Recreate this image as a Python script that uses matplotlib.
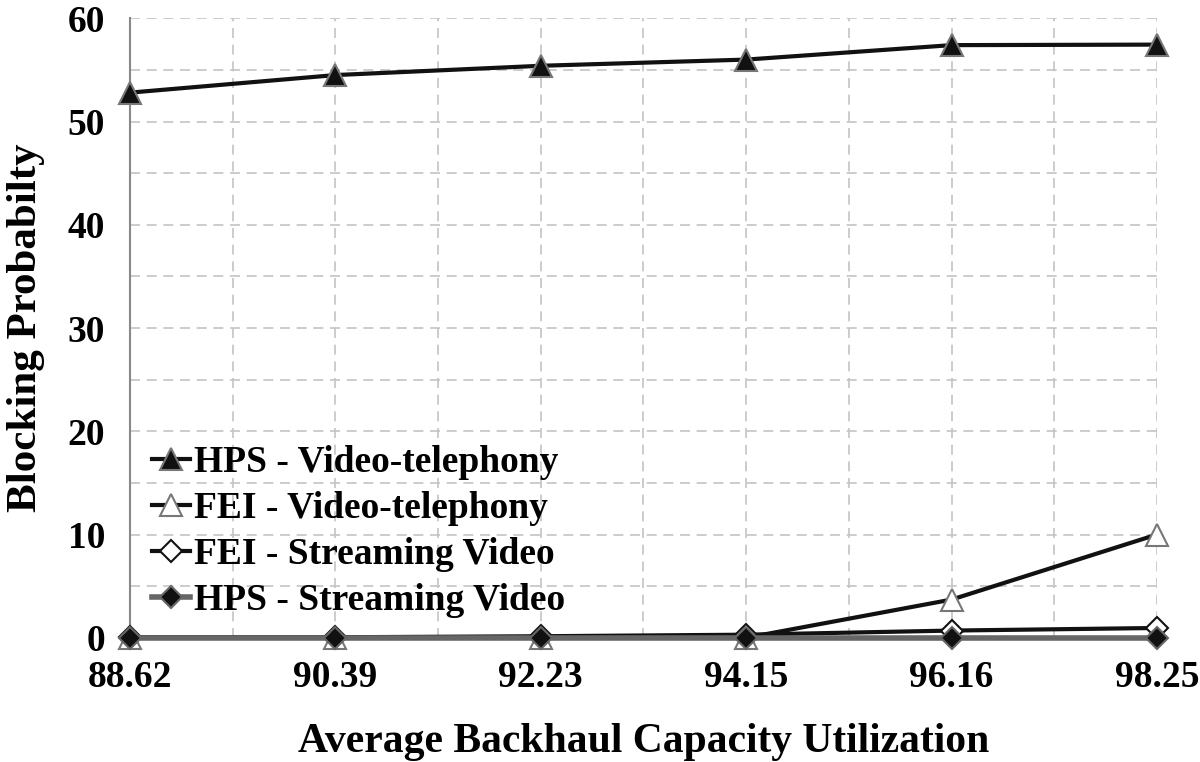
"""Blocking probability vs. average backhaul capacity utilization."""

import numpy as np
import matplotlib.pyplot as plt

plt.rcParams['font.family'] = ['Liberation Serif', 'DejaVu Serif']
plt.rcParams['font.weight'] = 'bold'

utilization = ['88.62', '90.39', '92.23', '94.15', '96.16', '98.25']
hps_video_tel = [52.8, 54.5, 55.4, 56.0, 57.4, 57.45]
fei_video_tel = [0.0, 0.0, 0.0, 0.0, 3.7, 10.0]
fei_streaming = [0.05, 0.05, 0.15, 0.3, 0.7, 0.95]
hps_streaming = [0.0, 0.0, 0.0, 0.0, 0.0, 0.0]


def main() -> None:
    x = np.arange(len(utilization))

    fig = plt.figure(figsize=(12.0, 7.62), dpi=100)
    ax = fig.add_axes([0.1083, 0.163, 0.8558, 0.813])

    common = dict(clip_on=False, mew=1.5)
    ax.plot(x, hps_video_tel, color='#111111', lw=3, marker='^', ms=16,
            mfc='#111111', mec='#777777', label='HPS - Video-telephony', zorder=3, **common)
    ax.plot(x, fei_video_tel, color='#111111', lw=3, marker='^', ms=16,
            mfc='white', mec='#777777', label='FEI - Video-telephony', zorder=3, **common)
    ax.plot(x, fei_streaming, color='#111111', lw=3, marker='D', ms=11,
            mfc='white', mec='#111111', label='FEI - Streaming Video', zorder=4, **common)
    ax.plot(x, hps_streaming, color='#666666', lw=4, marker='D', ms=11,
            mfc='#111111', mec='#666666', label='HPS - Streaming Video', zorder=5, **common)

    ax.set_xlim(0, len(utilization) - 1)
    ax.set_ylim(0, 60)
    ax.set_xticks(x)
    ax.set_xticklabels(utilization)
    ax.set_yticks(np.arange(0, 61, 10))
    ax.set_xticks(np.arange(0.5, len(utilization) - 1, 1), minor=True)
    ax.set_yticks(np.arange(5, 60, 10), minor=True)
    ax.tick_params(axis='both', which='both', length=0, labelsize=27)
    ax.tick_params(axis='y', pad=18)
    ax.tick_params(axis='x', pad=16)

    ax.grid(True, which='both', color='#c4c4c4', linestyle=(0, (6, 4)), lw=1.2)
    ax.set_axisbelow(True)
    for side in ('top', 'right', 'bottom'):
        ax.spines[side].set_visible(False)
    ax.spines['left'].set_color('#888888')
    ax.spines['left'].set_linewidth(1.5)

    ax.set_xlabel('Average Backhaul Capacity Utilization', fontsize=30,
                  fontweight='bold', labelpad=20)
    ax.set_ylabel('Blocking Probabilty', fontsize=31, fontweight='bold', labelpad=16)

    ax.legend(loc='lower left', bbox_to_anchor=(0.0, -0.005), frameon=False,
              fontsize=27, handlelength=1.0, handletextpad=0.1,
              labelspacing=0.3, borderaxespad=0.2)

    fig.savefig('out.png', dpi=100)
    plt.close(fig)


if __name__ == '__main__':
    main()
